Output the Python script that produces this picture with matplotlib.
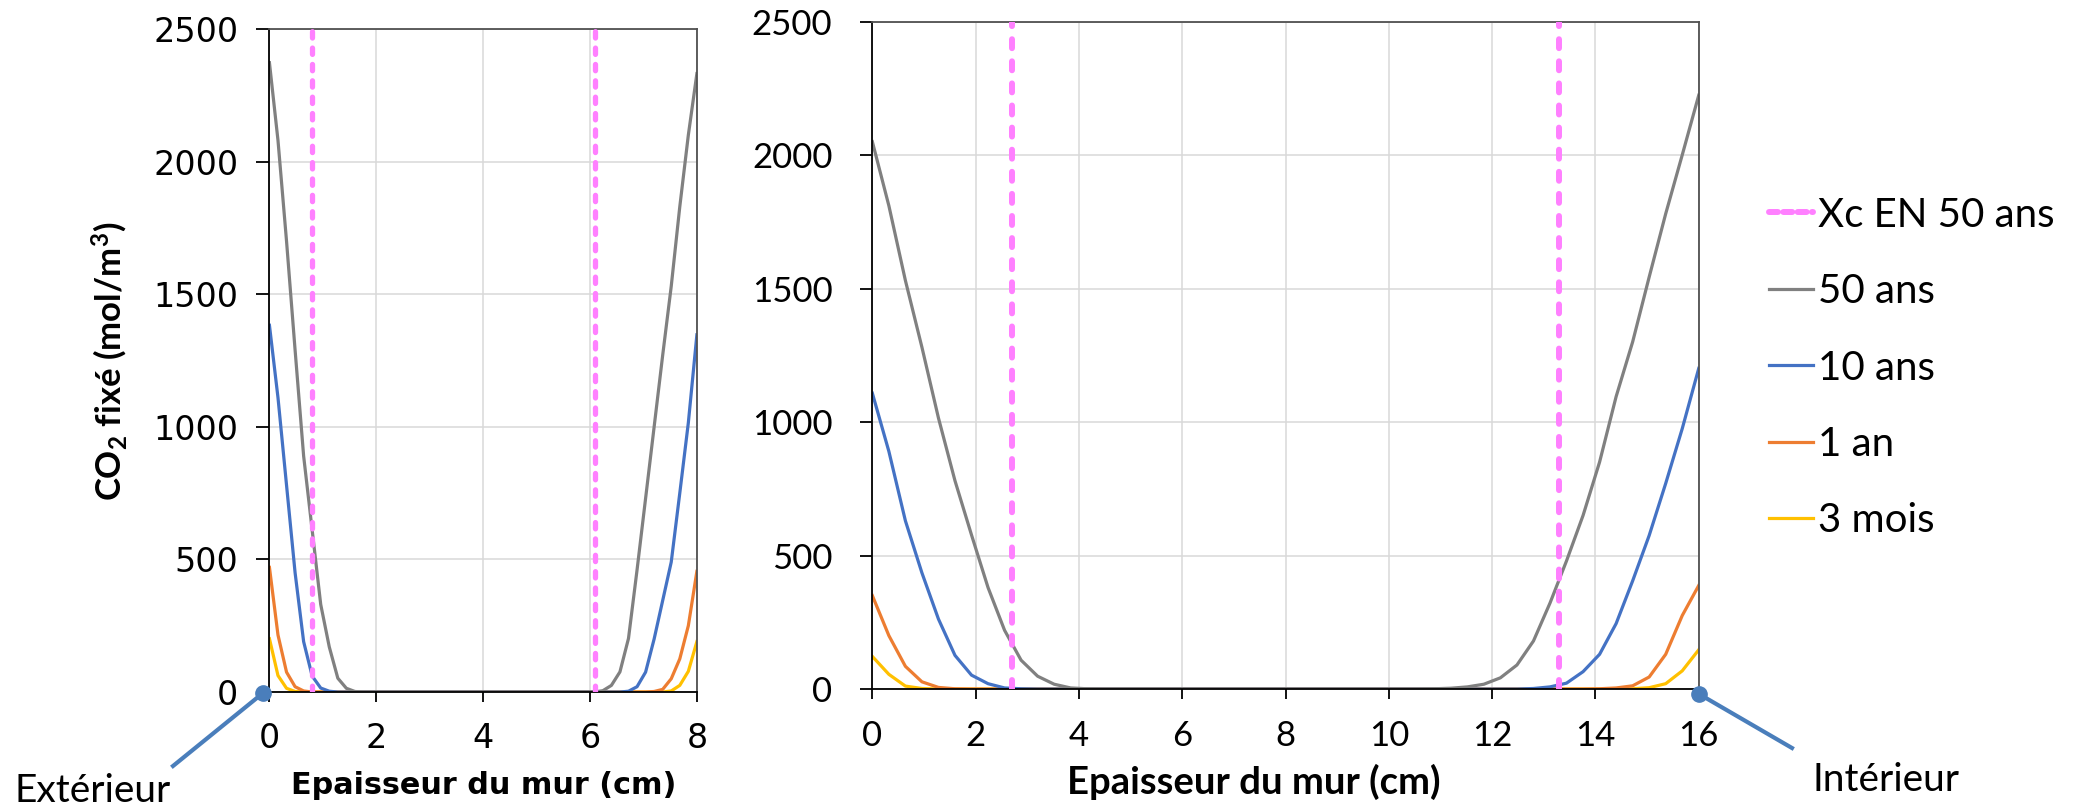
import matplotlib.pyplot as plt
from matplotlib.lines import Line2D

# mur de 8 cm (gauche) : abscisses en cm, valeurs en mol/m3
x_g = [0, 0.16, 0.32, 0.48, 0.64, 0.80, 0.96, 1.12, 1.28, 1.44, 1.60, 1.76,
       6.08, 6.24, 6.40, 6.56, 6.72, 6.88, 7.04, 7.20, 7.36, 7.52, 7.68, 7.84, 8.00]
g_50ans = [2373, 2080, 1700, 1290, 890, 610, 330, 170, 52, 14, 2, 0,
           0, 5, 25, 76, 202, 460, 730, 1000, 1270, 1530, 1830, 2100, 2332]
g_10ans = [1383, 1110, 780, 450, 190, 60, 15, 3, 0, 0, 0, 0,
           0, 0, 0, 0, 3, 20, 75, 200, 345, 490, 750, 1015, 1347]
g_1an = [470, 215, 75, 20, 4, 0, 0, 0, 0, 0, 0, 0,
         0, 0, 0, 0, 0, 0, 0, 2, 10, 50, 125, 250, 455]
g_3mois = [201, 62, 14, 2, 0, 0, 0, 0, 0, 0, 0, 0,
           0, 0, 0, 0, 0, 0, 0, 0, 0, 4, 25, 78, 190]
xc_g = [0.8, 6.1]

# mur de 16 cm (droite)
x_d = [0, 0.32, 0.64, 0.96, 1.28, 1.60, 1.92, 2.24, 2.56, 2.88, 3.20, 3.52, 3.84, 4.16, 4.48,
       10.56, 10.88, 11.20, 11.52, 11.84, 12.16, 12.48, 12.80, 13.12, 13.44, 13.76,
       14.08, 14.40, 14.72, 15.04, 15.36, 15.68, 16.00]
d_50ans = [2050, 1810, 1530, 1280, 1015, 780, 577, 380, 220, 108, 48, 18, 4, 1, 0,
           0, 1, 3, 8, 18, 42, 90, 180, 322, 480, 650, 850, 1095, 1300, 1543, 1780, 2000, 2224]
d_10ans = [1108, 890, 630, 435, 262, 126, 52, 20, 4, 1, 0, 0, 0, 0, 0,
           0, 0, 0, 0, 0, 0, 0, 2, 8, 22, 65, 130, 245, 405, 575, 770, 975, 1201]
d_1an = [350, 200, 85, 27, 6, 1, 0, 0, 0, 0, 0, 0, 0, 0, 0,
         0, 0, 0, 0, 0, 0, 0, 0, 0, 0, 0, 1, 4, 12, 45, 130, 275, 388]
d_3mois = [122, 55, 11, 2, 0, 0, 0, 0, 0, 0, 0, 0, 0, 0, 0,
           0, 0, 0, 0, 0, 0, 0, 0, 0, 0, 0, 0, 0, 1, 5, 20, 68, 147]
xc_d = [2.7, 13.3]

y_range = [0, 2500]
y_ticks = [0, 500, 1000, 1500, 2000, 2500]

c_gris = '#808080'
c_bleu = '#4472c4'
c_orange = '#ed7d31'
c_jaune = '#ffc000'
c_rose = '#ff80ff'

fig = plt.figure(figsize=(20.79, 8.09), dpi=100)

ax1 = fig.add_axes([0.1296, 0.1446, 0.2056, 0.8195])
ax2 = fig.add_axes([0.4196, 0.1483, 0.3975, 0.8251])

lw = 2.3
# graphe gauche
ax1.plot(x_g, g_3mois, color=c_jaune, lw=lw)
ax1.plot(x_g, g_1an, color=c_orange, lw=lw)
ax1.plot(x_g, g_10ans, color=c_bleu, lw=lw)
ax1.plot(x_g, g_50ans, color=c_gris, lw=lw)
for xc in xc_g:
    ax1.plot([xc, xc], y_range, color=c_rose, lw=3.8, dashes=(1.2, 1.9),
             dash_capstyle='round', zorder=5)

# graphe droit
ax2.plot(x_d, d_3mois, color=c_jaune, lw=lw)
ax2.plot(x_d, d_1an, color=c_orange, lw=lw)
ax2.plot(x_d, d_10ans, color=c_bleu, lw=lw)
ax2.plot(x_d, d_50ans, color=c_gris, lw=lw)
for xc in xc_d:
    ax2.plot([xc, xc], y_range, color=c_rose, lw=4.3, dashes=(1.5, 2.2),
             dash_capstyle='round', zorder=5)

for ax, xmax in [(ax1, 8), (ax2, 16)]:
    ax.set_xlim(0, xmax)
    ax.set_ylim(0, 2500)
    ax.set_xticks(range(0, xmax + 1, 2))
    ax.set_yticks(y_ticks)
    ax.grid(True, color='#d9d9d9', lw=1.1)
    ax.set_axisbelow(True)
    ax.spines['left'].set_color('black')
    ax.spines['bottom'].set_color('black')
    for s in ['top', 'right']:
        ax.spines[s].set_color('#505050')
    for s in ax.spines.values():
        s.set_linewidth(1.3)

ax1.tick_params(axis='y', direction='out', length=9.4, width=1.3, pad=13, labelsize=24)
ax1.tick_params(axis='x', direction='out', length=7.5, width=1.3, pad=14, labelsize=24)
ax2.tick_params(axis='y', direction='out', length=8.7, width=1.3, pad=20, labelsize=25)
ax2.tick_params(axis='x', direction='out', length=7.5, width=1.3, pad=15, labelsize=25)
for lab in ax2.get_xticklabels() + ax2.get_yticklabels():
    lab.set_family('Lato')

# titres des axes
fig.text(110 / 2079, 1 - 361 / 809, 'CO$\\mathregular{_2}$ fixé (mol/m$\\mathregular{^3}$)',
         rotation=90, ha='center', va='center', fontsize=25, fontweight='bold', family='Lato')
fig.text(484 / 2079, 1 - 785 / 809, 'Epaisseur du mur (cm)', ha='center', va='center',
         fontsize=21.8, fontweight='bold')
fig.text(1254 / 2079, 1 - 782 / 809, 'Epaisseur du mur (cm)', ha='center', va='center',
         fontsize=27.5, fontweight='bold', family='Lato')

# légende
handles = [
    Line2D([], [], color=c_rose, lw=4.3, dashes=(1.5, 0.9), dash_capstyle='round'),
    Line2D([], [], color=c_gris, lw=lw),
    Line2D([], [], color=c_bleu, lw=lw),
    Line2D([], [], color=c_orange, lw=lw),
    Line2D([], [], color=c_jaune, lw=lw),
]
labels = ['Xc EN 50 ans', '50 ans', '10 ans', '1 an', '3 mois']
fig.legend(handles, labels, loc='center left', bbox_to_anchor=(1769 / 2079, 1 - 368 / 809),
           frameon=False, prop={'family': 'Lato', 'size': 29}, handlelength=1.1,
           handletextpad=0.12, labelspacing=0.98, borderpad=0, borderaxespad=0)

# repères extérieur / intérieur
c_rep = '#4a7ebb'
fig.add_artist(Line2D([173 / 2079, 263 / 2079], [1 - 766 / 809, 1 - 693 / 809],
                      color=c_rep, lw=3))
fig.add_artist(Line2D([263 / 2079], [1 - 693 / 809], color=c_rep, marker='o', markersize=11))
fig.text(15 / 2079, 1 - 791 / 809, 'Extérieur', ha='left', va='center', fontsize=28,
         family='Lato')

fig.add_artist(Line2D([1699 / 2079, 1792 / 2079], [1 - 694 / 809, 1 - 748 / 809],
                      color=c_rep, lw=3))
fig.add_artist(Line2D([1699 / 2079], [1 - 694 / 809], color=c_rep, marker='o', markersize=11))
fig.text(1813 / 2079, 1 - 780 / 809, 'Intérieur', ha='left', va='center', fontsize=28,
         family='Lato')

plt.savefig('out.png', dpi=100)
